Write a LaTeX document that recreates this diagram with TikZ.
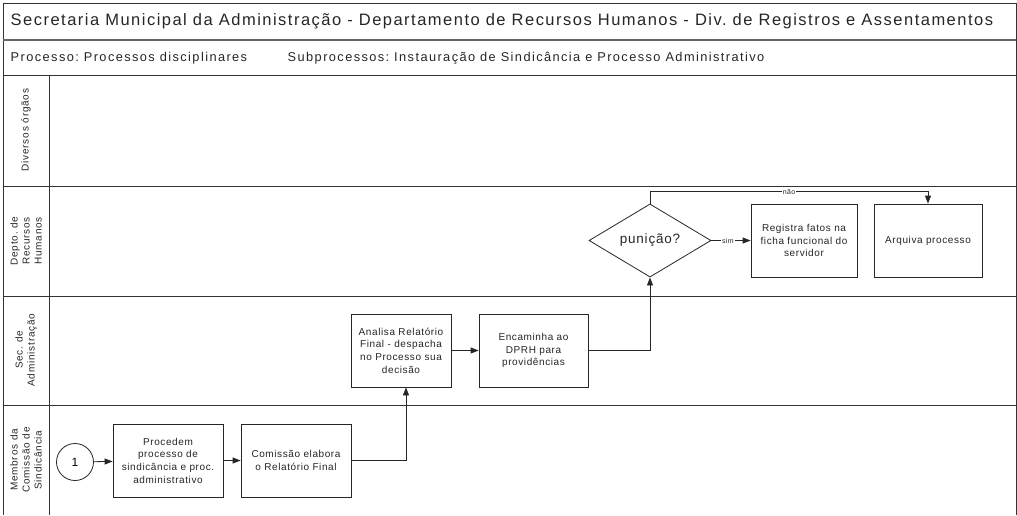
\documentclass[tikz,border=0pt]{standalone}
\usepackage{fontspec}
\setmainfont{Liberation Sans}
\frenchspacing
\usepackage{tikz}
\usetikzlibrary{positioning,shapes.geometric,arrows.meta}

\newcommand{\spaced}[1]{\addfontfeature{LetterSpace=#1}}

\begin{document}
\begin{tikzpicture}[x=1pt,y=-1pt,>={Triangle[length=8pt,width=6pt]},draw=black!85,line width=0.8pt]
	\tikzstyle{lane line}=[draw=black!80,line width=1pt]
	\tikzstyle{lane label}=[rotate=90,align=center,font=\fontsize{10}{12}\selectfont\spaced{8},text=black!85]
	\tikzstyle{task}=[rectangle,draw=black!85,fill=white,align=center,inner sep=1pt,font=\fontsize{10}{12.7}\selectfont\spaced{6},text=black!85]
	\tikzstyle{decision}=[diamond,draw=black!85,fill=white,inner sep=0pt,minimum width=122pt,minimum height=73pt,font=\fontsize{13.5}{15}\selectfont\spaced{6},text=black!85]
	\tikzstyle{start}=[circle,draw=black!85,fill=white,minimum size=37pt,inner sep=0pt,font=\fontsize{12}{14}\selectfont]
	\tikzstyle{flow}=[->,draw=black!85,line width=0.8pt]
	\tikzstyle{annot}=[fill=white,inner sep=1pt,font=\fontsize{7}{8}\selectfont\spaced{5},text=black!85]
	\tikzstyle{header}=[anchor=west,text=black!85]

	\useasboundingbox (0,0) rectangle (1017,515);

	% Draw the header rows
	\draw[lane line] (3,515) -- (3,3) -- (1016,3) -- (1016,515);
	\draw[lane line,draw=black!60,line width=1.6pt] (3,40) -- (1016,40);
	\draw[lane line] (3,75) -- (1016,75);
	\node[header,font=\fontsize{16.5}{18}\selectfont\spaced{9}] (title) at (7,21)
		{Secretaria Municipal da Administração - Departamento de Recursos Humanos - Div. de Registros e Assentamentos};
	\node[header,font=\fontsize{12.8}{14}\selectfont\spaced{11}] (proc) at (7,58) {Processo: Processos disciplinares};
	\node[header,font=\fontsize{12.8}{14}\selectfont\spaced{11}] (subproc) at (284,58) {Subprocessos: Instauração de Sindicância e Processo Administrativo};

	% Draw the swimlanes
	\draw[lane line] (49,75) -- (49,515);
	\foreach \y in {186,296,405}
		\draw[lane line] (3,\y) -- (1016,\y);
	\foreach \name / \y / \txt in {L-1/130/{Diversos órgãos},
		L-2/241/{Depto. de\\Recursos\\Humanos},
		L-3/350/{Sec. de\\Administração},
		L-4/460/{Membros da\\Comissão de\\Sindicância}}
		\node[lane label] (\name) at (26,\y) {\txt};

	% Draw the steps of the commission
	\node[start] (C-start) at (75,462) {1};
	\node[task,minimum width=110pt,minimum height=73pt] (C-proc) at (168,460.5)
		{Procedem\\processo de\\sindicância e proc.\\administrativo};
	\node[task,minimum width=110pt,minimum height=73pt] (C-rel) at (296,460.5)
		{Comissão elabora\\o Relatório Final};

	% Draw the steps of the secretariat
	\node[task,minimum width=100pt,minimum height=73pt] (S-analisa) at (401,350.5)
		{Analisa Relatório\\Final - despacha\\no Processo sua\\decisão};
	\node[task,minimum width=109pt,minimum height=73pt] (S-enc) at (533.5,350.5)
		{Encaminha ao\\DPRH para\\providências};

	% Draw the steps of the HR department
	\node[decision] (D-pun) at (650,240.5) {punição?};
	\node[task,minimum width=106pt,minimum height=73pt] (D-reg) at (804,240.5)
		{Registra fatos na\\ficha funcional do\\servidor};
	\node[task,minimum width=108pt,minimum height=73pt] (D-arq) at (928,240.5) {Arquiva processo};

	% Connect the steps
	\draw[flow] (C-start) -- (C-proc);
	\draw[flow] (C-proc) -- (C-rel);
	\draw[flow] (C-rel.east) -| ([xshift=5pt]S-analisa.south);
	\draw[flow] (S-analisa) -- (S-enc);
	\draw[flow] (S-enc.east) -| (D-pun.south);
	\draw[flow] (D-pun.east) -- node[annot,pos=0.42] {sim} (D-reg.west);
	\draw[flow] (D-pun.north) -- ++(0,-12) coordinate (nao) -| node[annot,pos=0.25] {não} (D-arq.north);
\end{tikzpicture}
\end{document}
